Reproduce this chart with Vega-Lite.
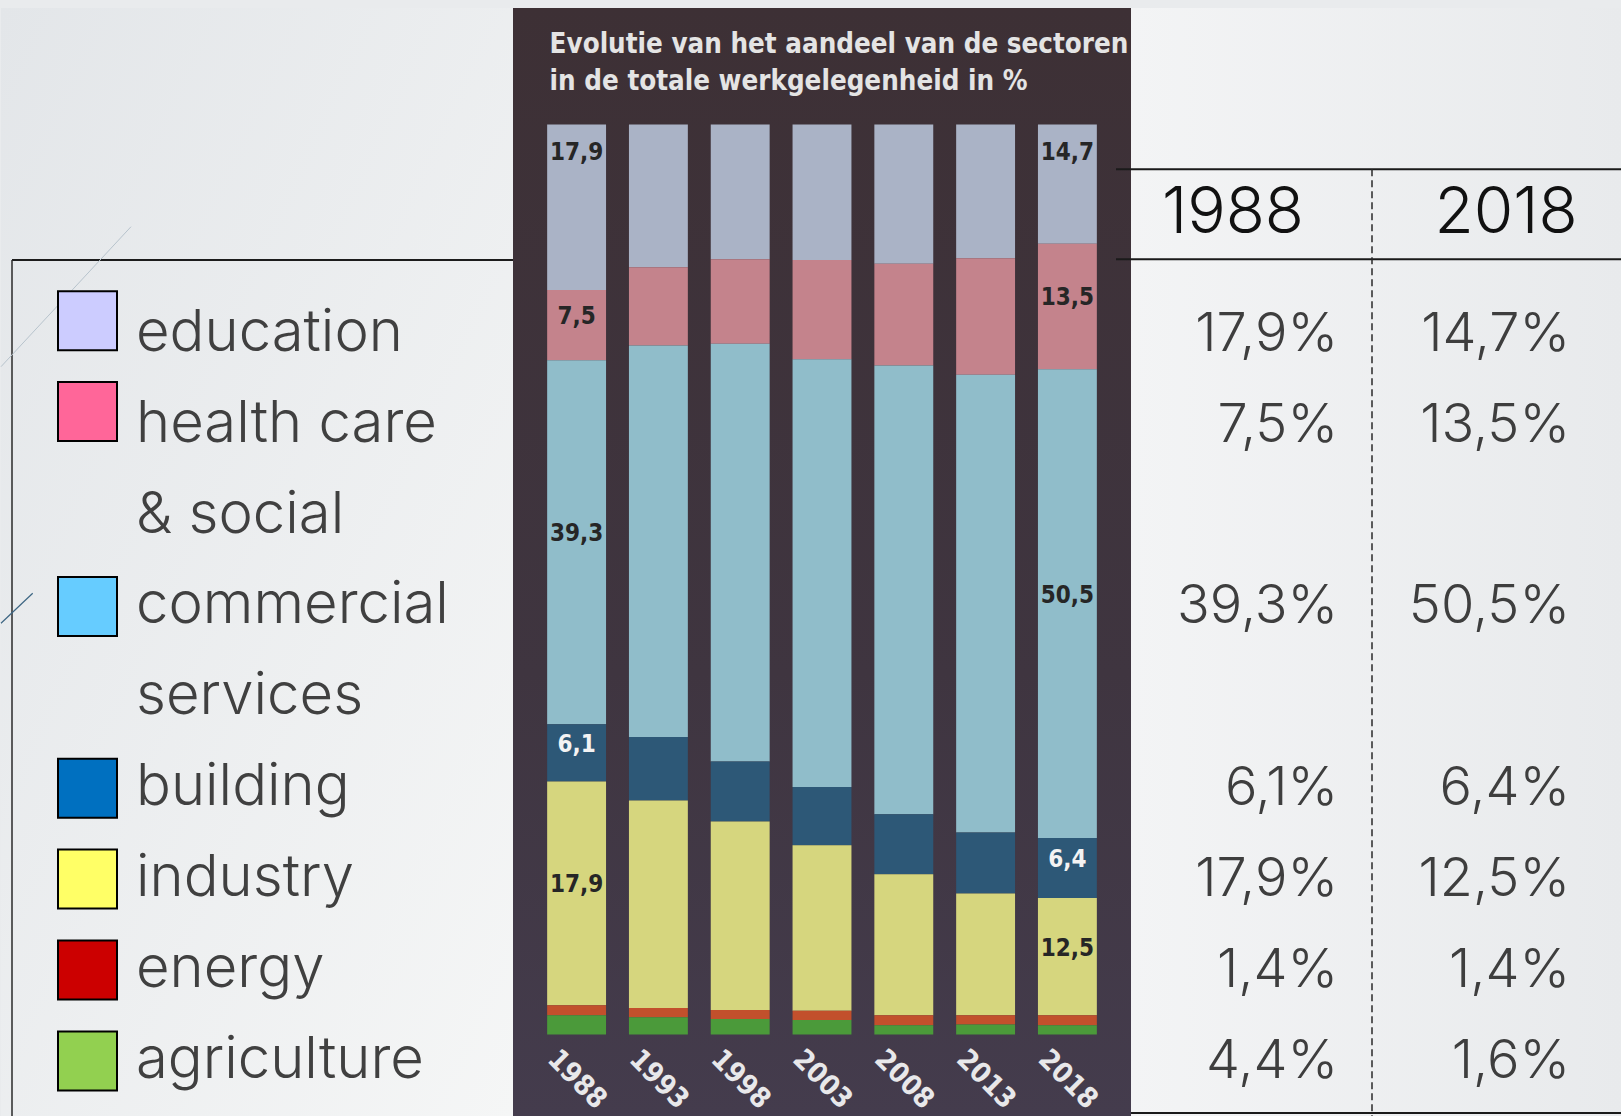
{
  "$schema": "https://vega.github.io/schema/vega-lite/v6.json",
  "background": "#e9ebed",
  "padding": {"left": 0, "right": 0, "top": 8, "bottom": 0},
  "spacing": 0,
  "bounds": "flush",
  "config": {
    "view": {"stroke": null},
    "axis": {"disable": true},
    "legend": {"disable": true},
    "locale": {"number": {"decimal": ",", "thousands": ".", "grouping": [3], "currency": ["", "%"]}}
  },
  "resolve": {"scale": {"color": "independent"}},
  "datasets": {
    "sectors": [
      {"sector": "education", "caption": "education"},
      {"sector": "health care & social", "caption": "health care\n& social"},
      {"sector": "commercial services", "caption": "commercial\nservices"},
      {"sector": "building", "caption": "building"},
      {"sector": "industry", "caption": "industry"},
      {"sector": "energy", "caption": "energy"},
      {"sector": "agriculture", "caption": "agriculture"}
    ],
    "table": [
      {"sector": "education", "year": "1988", "pct": 17.9},
      {"sector": "education", "year": "2018", "pct": 14.7},
      {"sector": "health care & social", "year": "1988", "pct": 7.5},
      {"sector": "health care & social", "year": "2018", "pct": 13.5},
      {"sector": "commercial services", "year": "1988", "pct": 39.3},
      {"sector": "commercial services", "year": "2018", "pct": 50.5},
      {"sector": "building", "year": "1988", "pct": 6.1},
      {"sector": "building", "year": "2018", "pct": 6.4},
      {"sector": "industry", "year": "1988", "pct": 17.9},
      {"sector": "industry", "year": "2018", "pct": 12.5},
      {"sector": "energy", "year": "1988", "pct": 1.4},
      {"sector": "energy", "year": "2018", "pct": 1.4},
      {"sector": "agriculture", "year": "1988", "pct": 4.4},
      {"sector": "agriculture", "year": "2018", "pct": 1.6}
    ],
    "bars": [
      {"year": "1988", "sector": "education", "share": 18.2, "printed": 17.9},
      {"year": "1988", "sector": "health care & social", "share": 7.7, "printed": 7.5},
      {"year": "1988", "sector": "commercial services", "share": 40.0, "printed": 39.3},
      {"year": "1988", "sector": "building", "share": 6.3, "printed": 6.1},
      {"year": "1988", "sector": "industry", "share": 24.6, "printed": 17.9},
      {"year": "1988", "sector": "energy", "share": 1.1},
      {"year": "1988", "sector": "agriculture", "share": 2.1},
      {"year": "1993", "sector": "education", "share": 15.7},
      {"year": "1993", "sector": "health care & social", "share": 8.6},
      {"year": "1993", "sector": "commercial services", "share": 43.0},
      {"year": "1993", "sector": "building", "share": 7.0},
      {"year": "1993", "sector": "industry", "share": 22.8},
      {"year": "1993", "sector": "energy", "share": 1.0},
      {"year": "1993", "sector": "agriculture", "share": 1.9},
      {"year": "1998", "sector": "education", "share": 14.8},
      {"year": "1998", "sector": "health care & social", "share": 9.3},
      {"year": "1998", "sector": "commercial services", "share": 45.9},
      {"year": "1998", "sector": "building", "share": 6.6},
      {"year": "1998", "sector": "industry", "share": 20.7},
      {"year": "1998", "sector": "energy", "share": 1.0},
      {"year": "1998", "sector": "agriculture", "share": 1.7},
      {"year": "2003", "sector": "education", "share": 14.9},
      {"year": "2003", "sector": "health care & social", "share": 10.9},
      {"year": "2003", "sector": "commercial services", "share": 47.0},
      {"year": "2003", "sector": "building", "share": 6.4},
      {"year": "2003", "sector": "industry", "share": 18.2},
      {"year": "2003", "sector": "energy", "share": 1.0},
      {"year": "2003", "sector": "agriculture", "share": 1.6},
      {"year": "2008", "sector": "education", "share": 15.3},
      {"year": "2008", "sector": "health care & social", "share": 11.2},
      {"year": "2008", "sector": "commercial services", "share": 49.3},
      {"year": "2008", "sector": "building", "share": 6.6},
      {"year": "2008", "sector": "industry", "share": 15.5},
      {"year": "2008", "sector": "energy", "share": 1.1},
      {"year": "2008", "sector": "agriculture", "share": 1.0},
      {"year": "2013", "sector": "education", "share": 14.7},
      {"year": "2013", "sector": "health care & social", "share": 12.8},
      {"year": "2013", "sector": "commercial services", "share": 50.3},
      {"year": "2013", "sector": "building", "share": 6.7},
      {"year": "2013", "sector": "industry", "share": 13.4},
      {"year": "2013", "sector": "energy", "share": 1.0},
      {"year": "2013", "sector": "agriculture", "share": 1.1},
      {"year": "2018", "sector": "education", "share": 13.1, "printed": 14.7},
      {"year": "2018", "sector": "health care & social", "share": 13.8, "printed": 13.5},
      {"year": "2018", "sector": "commercial services", "share": 51.5, "printed": 50.5},
      {"year": "2018", "sector": "building", "share": 6.6, "printed": 6.4},
      {"year": "2018", "sector": "industry", "share": 12.9, "printed": 12.5},
      {"year": "2018", "sector": "energy", "share": 1.1},
      {"year": "2018", "sector": "agriculture", "share": 1.0}
    ]
  },
  "hconcat": [
    {
      "width": 512,
      "height": 1108,
      "view": {"fill": {"gradient": "linear", "x1": 0, "y1": 0, "x2": 1, "y2": 1, "stops": [{"offset": 0, "color": "#e3e6e9"}, {"offset": 1, "color": "#f5f6f6"}]}, "stroke": null},
      "resolve": {"scale": {"x": "independent", "y": "independent"}},
      "layer": [
        {
          "data": {"values": [{}]},
          "layer": [
            {
              "mark": {"type": "rule", "stroke": "#1c1c1c", "strokeWidth": 2},
              "encoding": {
                "x": {"datum": 11, "type": "quantitative", "scale": {"domain": [0, 512], "nice": false, "zero": false}},
                "x2": {"datum": 512},
                "y": {"datum": 252, "type": "quantitative", "scale": {"domain": [0, 1108], "reverse": true, "nice": false, "zero": false}}
              }
            },
            {
              "mark": {"type": "rule", "stroke": "#2a2a2a", "strokeWidth": 1.5},
              "encoding": {
                "x": {"datum": 11, "type": "quantitative"},
                "y": {"datum": 252, "type": "quantitative"},
                "y2": {"datum": 1108}
              }
            },
            {
              "mark": {"type": "rule", "stroke": "#b7c3cc", "strokeWidth": 1},
              "encoding": {
                "x": {"datum": 0, "type": "quantitative"},
                "x2": {"datum": 130},
                "y": {"datum": 358.7, "type": "quantitative"},
                "y2": {"datum": 218.7}
              }
            },
            {
              "mark": {"type": "rule", "stroke": "#3d6683", "strokeWidth": 1.2},
              "encoding": {
                "x": {"datum": 0, "type": "quantitative"},
                "x2": {"datum": 31.7},
                "y": {"datum": 615.3, "type": "quantitative"},
                "y2": {"datum": 585.3}
              }
            }
          ]
        },
        {
          "data": {"name": "sectors"},
          "encoding": {
            "y": {"field": "sector", "type": "nominal", "axis": null, "scale": {"type": "point", "padding": 0, "range": [342.7, 1069.9], "domain": ["education", "health care & social", "health care & social (line 2)", "commercial services", "commercial services (line 2)", "building", "industry", "energy", "agriculture"]}}
          },
          "layer": [
            {
              "transform": [{"filter": {"not": {"field": "sector", "oneOf": ["education", "health care & social"]}}}],
              "mark": {"type": "point", "shape": "square", "size": 3481, "filled": true, "opacity": 1, "stroke": "#000000", "strokeWidth": 2, "yOffset": -17},
              "encoding": {
                "x": {"datum": "swatch", "type": "nominal", "axis": null, "scale": {"type": "point", "padding": 0, "domain": ["swatch", "caption"], "range": [86.5, 135]}},
                "color": {"field": "sector", "type": "nominal", "legend": null, "scale": {"domain": ["education", "health care & social", "commercial services", "building", "industry", "energy", "agriculture"], "range": ["#ccccff", "#ff6699", "#66ccff", "#0070c0", "#ffff66", "#cc0000", "#92d050"]}}
              }
            },
            {
              "transform": [{"filter": {"field": "sector", "oneOf": ["education", "health care & social"]}}],
              "mark": {"type": "point", "shape": "square", "size": 3481, "filled": true, "opacity": 1, "stroke": "#000000", "strokeWidth": 2, "yOffset": -30},
              "encoding": {
                "x": {"datum": "swatch", "type": "nominal"},
                "color": {"field": "sector", "type": "nominal", "legend": null}
              }
            },
            {
              "mark": {"type": "text", "align": "left", "baseline": "alphabetic", "font": "Inter", "fontWeight": 300, "fontSize": 58, "lineBreak": "\n", "lineHeight": 91, "color": "#404040"},
              "encoding": {
                "x": {"datum": "caption", "type": "nominal"},
                "text": {"field": "caption", "type": "nominal"}
              }
            }
          ]
        }
      ]
    },
    {
      "width": 618,
      "height": 1108,
      "view": {"fill": {"gradient": "linear", "x1": 0, "y1": 0, "x2": 0, "y2": 1, "stops": [{"offset": 0, "color": "#3d3035"}, {"offset": 0.6, "color": "#3f3540"}, {"offset": 1, "color": "#443c4d"}]}, "stroke": null},
      "data": {"name": "bars"},
      "transform": [
        {"window": [{"op": "row_number", "as": "rank"}], "groupby": ["year"]},
        {"stack": "share", "groupby": ["year"], "sort": [{"field": "rank", "order": "descending"}], "as": ["s0", "s1"]}
      ],
      "layer": [
        {
          "mark": {"type": "bar"},
          "encoding": {
            "x": {"field": "year", "type": "nominal", "axis": null, "scale": {"type": "band", "paddingInner": 0.28, "paddingOuter": 0.4175}},
            "y": {"field": "s0", "type": "quantitative", "axis": null, "scale": {"domain": [-8.96, 112.8], "nice": false, "zero": false}},
            "y2": {"field": "s1"},
            "color": {"field": "sector", "type": "nominal", "legend": null, "scale": {"domain": ["education", "health care & social", "commercial services", "building", "industry", "energy", "agriculture"], "range": ["#aab3c6", "#c4838c", "#90bdca", "#2d5877", "#d6d67e", "#c2502c", "#4b9a3a"]}}
          }
        },
        {
          "transform": [
            {"filter": {"field": "printed", "valid": true}},
            {"filter": {"field": "sector", "equal": "education"}}
          ],
          "mark": {"type": "text", "font": "'Liberation Sans Narrow', 'DejaVu Sans Condensed', 'Liberation Sans', sans-serif", "fontWeight": "bold", "fontSize": 24, "baseline": "middle", "dy": 29, "color": "#262626"},
          "encoding": {
            "x": {"field": "year", "type": "nominal"},
            "y": {"field": "s1", "type": "quantitative"},
            "text": {"field": "printed", "type": "quantitative", "format": ".1f"}
          }
        },
        {
          "transform": [
            {"filter": {"field": "printed", "valid": true}},
            {"filter": {"not": {"field": "sector", "equal": "education"}}},
            {"fold": ["s0", "s1"], "as": ["edge", "pos"]},
            {"aggregate": [{"op": "mean", "field": "pos", "as": "mid"}], "groupby": ["year", "sector", "printed"]}
          ],
          "mark": {"type": "text", "font": "'Liberation Sans Narrow', 'DejaVu Sans Condensed', 'Liberation Sans', sans-serif", "fontWeight": "bold", "fontSize": 24, "baseline": "middle", "dy": -8},
          "encoding": {
            "x": {"field": "year", "type": "nominal"},
            "y": {"field": "mid", "type": "quantitative"},
            "text": {"field": "printed", "type": "quantitative", "format": ".1f"},
            "color": {"condition": {"test": "datum.sector === 'building'", "value": "#f3f3f3"}, "value": "#262626"}
          }
        },
        {
          "transform": [{"filter": {"field": "sector", "equal": "education"}}],
          "mark": {"type": "text", "font": "'Liberation Sans Narrow', 'DejaVu Sans Condensed', 'Liberation Sans', sans-serif", "fontWeight": "bold", "fontSize": 28, "angle": 45, "align": "center", "baseline": "middle", "color": "#e8e8ea"},
          "encoding": {
            "x": {"field": "year", "type": "nominal"},
            "y": {"datum": -5.0, "type": "quantitative"},
            "text": {"field": "year", "type": "nominal"}
          }
        },
        {
          "data": {"values": [{}]},
          "mark": {"type": "text", "clip": true, "align": "left", "baseline": "alphabetic", "dx": -27, "font": "'Liberation Sans Narrow', 'DejaVu Sans Condensed', 'Liberation Sans', sans-serif", "fontWeight": "bold", "fontSize": 27.5, "lineHeight": 37, "color": "#e4e4e4"},
          "encoding": {
            "x": {"datum": "1988", "type": "nominal"},
            "y": {"datum": 107.86, "type": "quantitative"},
            "text": {"value": ["Evolutie van het aandeel van de sectoren", "in de totale werkgelegenheid in %"]}
          }
        }
      ]
    },
    {
      "width": 491,
      "height": 1108,
      "view": {"fill": {"gradient": "linear", "x1": 0, "y1": 0, "x2": 1, "y2": 0, "stops": [{"offset": 0, "color": "#f3f4f5"}, {"offset": 1, "color": "#e8eaec"}]}, "stroke": null},
      "resolve": {"scale": {"x": "independent", "y": "independent"}},
      "layer": [
        {
          "data": {"values": [{}]},
          "layer": [
            {
              "mark": {"type": "rule", "stroke": "#1a1a1a", "strokeWidth": 2},
              "encoding": {
                "x": {"datum": -15, "type": "quantitative", "scale": {"domain": [0, 491], "nice": false, "zero": false}},
                "x2": {"datum": 491},
                "y": {"datum": 161.3, "type": "quantitative", "scale": {"domain": [0, 1108], "reverse": true, "nice": false, "zero": false}}
              }
            },
            {
              "mark": {"type": "rule", "stroke": "#1a1a1a", "strokeWidth": 2},
              "encoding": {
                "x": {"datum": -15, "type": "quantitative"},
                "x2": {"datum": 491},
                "y": {"datum": 251.3, "type": "quantitative"}
              }
            },
            {
              "mark": {"type": "rule", "stroke": "#1a1a1a", "strokeWidth": 2},
              "encoding": {
                "x": {"datum": 0, "type": "quantitative"},
                "x2": {"datum": 491},
                "y": {"datum": 1105, "type": "quantitative"}
              }
            },
            {
              "mark": {"type": "rule", "stroke": "#2a2a2a", "strokeWidth": 1.5, "strokeDash": [7, 4]},
              "encoding": {
                "x": {"datum": 241, "type": "quantitative"},
                "y": {"datum": 161.3, "type": "quantitative"},
                "y2": {"datum": 1108}
              }
            }
          ]
        },
        {
          "data": {"name": "table"},
          "transform": [{"filter": {"field": "sector", "equal": "education"}}],
          "mark": {"type": "text", "align": "center", "baseline": "alphabetic", "font": "Inter", "fontWeight": 300, "fontSize": 64, "color": "#111111"},
          "encoding": {
            "x": {"field": "year", "type": "nominal", "axis": null, "scale": {"type": "point", "padding": 0, "domain": ["1988", "2018"], "range": [102, 375]}},
            "y": {"datum": 225, "type": "quantitative", "axis": null, "scale": {"domain": [0, 1108], "reverse": true, "nice": false, "zero": false}},
            "text": {"field": "year", "type": "nominal"}
          }
        },
        {
          "data": {"name": "table"},
          "mark": {"type": "text", "align": "right", "baseline": "alphabetic", "font": "Inter", "fontWeight": 300, "fontSize": 54, "color": "#3e3e3e"},
          "encoding": {
            "x": {"field": "year", "type": "nominal", "axis": null, "scale": {"type": "point", "padding": 0, "domain": ["1988", "2018"], "range": [207, 439]}},
            "y": {"field": "sector", "type": "nominal", "axis": null, "scale": {"type": "point", "padding": 0, "range": [342.7, 1069.9], "domain": ["education", "health care & social", "health care & social (line 2)", "commercial services", "commercial services (line 2)", "building", "industry", "energy", "agriculture"]}},
            "text": {"field": "pct", "type": "quantitative", "format": "$.1f"}
          }
        }
      ]
    }
  ]
}
